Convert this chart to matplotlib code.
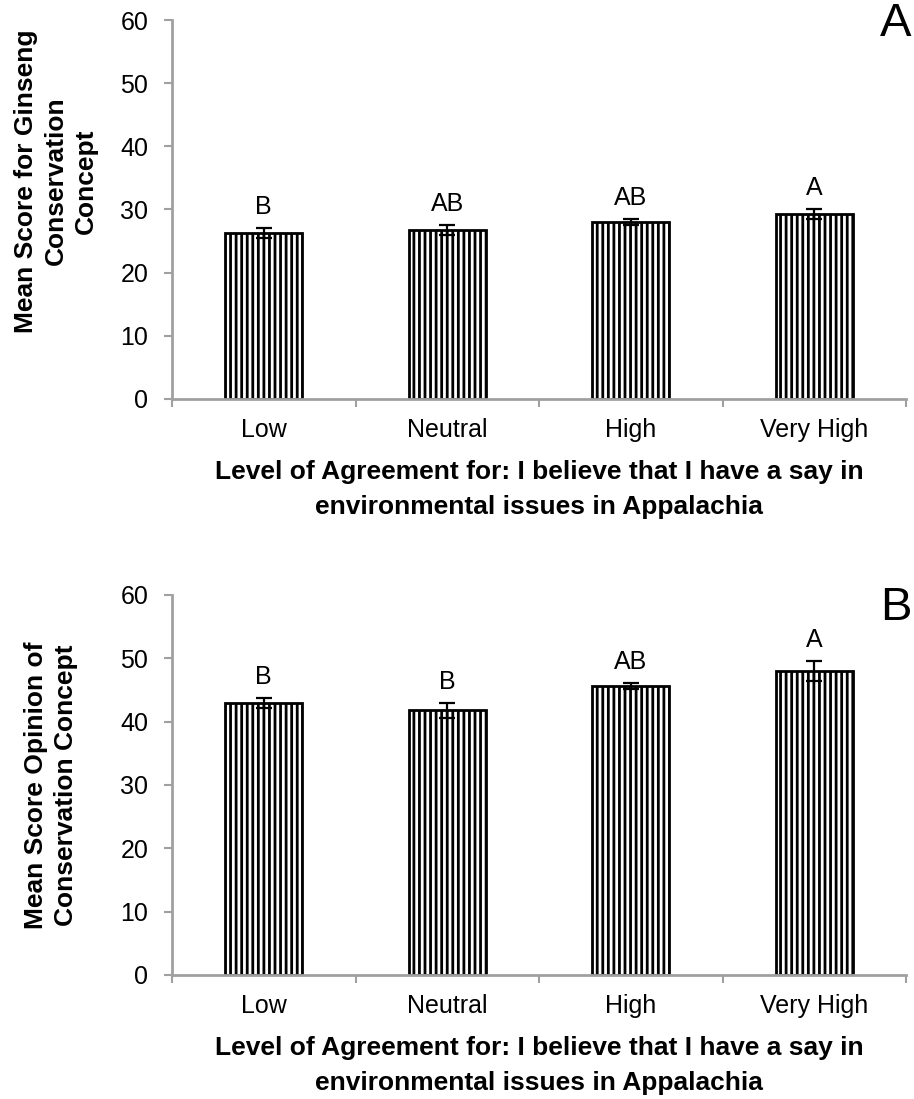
import numpy as np
import matplotlib.pyplot as plt

plt.rcParams['font.family'] = ['Liberation Sans', 'DejaVu Sans']
plt.rcParams['hatch.linewidth'] = 2.0

categories = ["Low", "Neutral", "High", "Very High"]

# Panel A: ginseng conservation concept
means_a = [26.3, 26.7, 28.0, 29.3]
errs_a = [0.8, 0.8, 0.5, 0.8]
letters_a = ["B", "AB", "AB", "A"]

# Panel B: opinion of conservation concept
means_b = [42.9, 41.8, 45.6, 48.0]
errs_b = [0.8, 1.2, 0.5, 1.6]
letters_b = ["B", "B", "AB", "A"]

xlabel = "Level of Agreement for: I believe that I have a say in\nenvironmental issues in Appalachia"

W, H = 914, 1099
fig = plt.figure(figsize=(W / 100, H / 100), dpi=100)


def panel(rect, means, errs, letters, ylabel, ylab_xy, tag, tag_y):
    l, t, r, b = rect
    ax = fig.add_axes([l / W, 1 - b / H, (r - l) / W, (b - t) / H])
    x = np.arange(len(categories))
    ax.bar(x, means, width=0.42, color="white", edgecolor="black",
           linewidth=2, hatch="|||", zorder=2)
    ax.errorbar(x, means, yerr=errs, fmt="none", ecolor="black",
                elinewidth=1.6, capsize=5.5, capthick=1.6, zorder=3)
    for xi, m, e, s in zip(x, means, errs, letters):
        ax.text(xi, m + e + 1.4, s, ha="center", va="bottom", fontsize=18)
    ax.set_xlim(-0.5, len(categories) - 0.5)
    ax.set_ylim(0, 60)
    ax.set_yticks(range(0, 61, 10))
    ax.set_xticks(np.arange(-0.5, len(categories), 1.0))
    ax.set_xticklabels([])
    ax.set_xticks(x, minor=True)
    ax.set_xticklabels(categories, minor=True, fontsize=18)
    ax.tick_params(axis="x", which="minor", length=0, pad=14)
    ax.tick_params(axis="x", which="major", length=6, width=1.5,
                   color="#a0a0a0", direction="out")
    ax.tick_params(axis="y", length=6, width=1.5, color="#a0a0a0",
                   labelsize=18, pad=11)
    for s in ["top", "right"]:
        ax.spines[s].set_visible(False)
    for s in ["left", "bottom"]:
        ax.spines[s].set_color("#a0a0a0")
        ax.spines[s].set_linewidth(2)
    fig.text(ylab_xy[0] / W, 1 - ylab_xy[1] / H, ylabel, rotation=90,
             fontsize=19, fontweight="bold", ha="center", va="center",
             linespacing=1.3, multialignment="center")
    fig.text(((l + r) / 2) / W, 1 - (b + 61) / H, xlabel, fontsize=19,
             fontweight="bold", ha="center", va="top", linespacing=1.6,
             multialignment="center")
    fig.text(896 / W, 1 - tag_y / H, tag, fontsize=34, ha="center", va="top")
    return ax


panel((172, 20, 906, 399), means_a, errs_a, letters_a,
      "Mean Score for Ginseng\nConservation\nConcept", (56, 181), "A", 2)
panel((172, 595, 906, 975), means_b, errs_b, letters_b,
      "Mean Score Opinion of\nConservation Concept", (51, 785), "B", 586)

fig.savefig("out.png", dpi=100)
